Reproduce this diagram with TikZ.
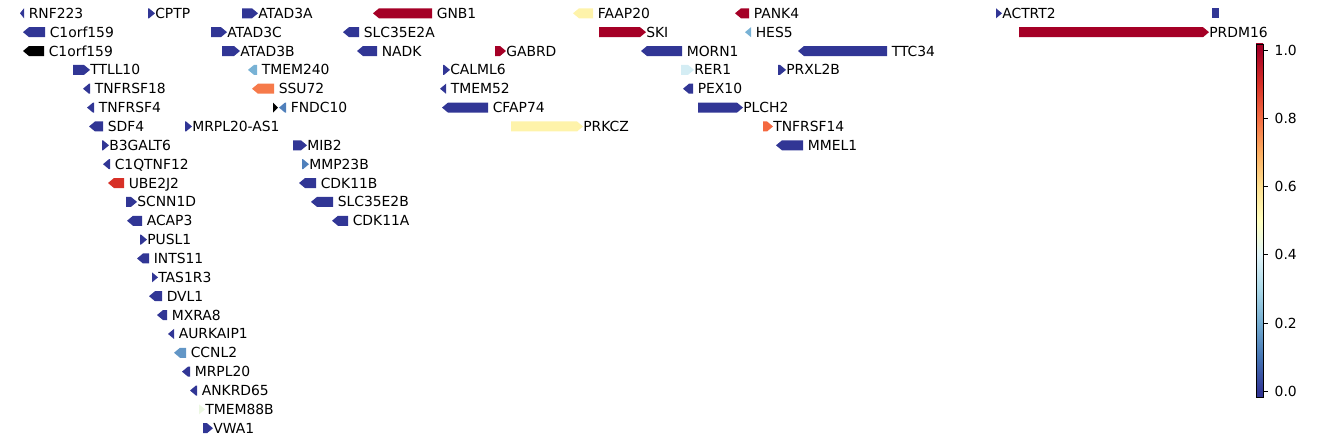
\documentclass[tikz,border=0pt]{standalone}
\usepackage{fontspec}
\setmainfont{DejaVu Sans}
\usepackage{xcolor}
\usetikzlibrary{positioning}

\definecolor{gblue}{HTML}{313695}
\definecolor{gred}{HTML}{A50026}
\definecolor{gltblue}{RGB}{120,178,213}
\definecolor{gmidblue}{RGB}{80,128,187}
\definecolor{gccnl}{RGB}{98,150,198}
\definecolor{gorange}{RGB}{246,122,74}
\definecolor{gorred}{RGB}{244,105,64}
\definecolor{gred2}{HTML}{D73027}
\definecolor{gyellow}{RGB}{254,243,170}
\definecolor{gpale}{RGB}{212,237,244}
\definecolor{gwhite}{RGB}{236,247,226}

\definecolor{rb0}{HTML}{313695}
\definecolor{rb1}{HTML}{4575B4}
\definecolor{rb2}{HTML}{74ADD1}
\definecolor{rb3}{HTML}{ABD9E9}
\definecolor{rb4}{HTML}{E0F3F8}
\definecolor{rb5}{HTML}{FFFFBF}
\definecolor{rb6}{HTML}{FEE090}
\definecolor{rb7}{HTML}{FDAE61}
\definecolor{rb8}{HTML}{F46D43}
\definecolor{rb9}{HTML}{D73027}
\definecolor{rb10}{HTML}{A50026}
\pgfdeclareverticalshading{rdylbu}{100bp}{color(0bp)=(rb0); color(25.78bp)=(rb0);
  color(30.62bp)=(rb1); color(35.45bp)=(rb2); color(40.29bp)=(rb3); color(45.13bp)=(rb4);
  color(49.96bp)=(rb5); color(54.80bp)=(rb6); color(59.64bp)=(rb7); color(64.48bp)=(rb8);
  color(69.31bp)=(rb9); color(74.15bp)=(rb10); color(100bp)=(rb10)}

\tikzset{
  genelabel/.style={anchor=base west, inner sep=0pt, font=\fontsize{10}{12}\selectfont},
  ticklabel/.style={anchor=west, inner sep=0pt, xshift=4.5pt, font=\fontsize{10}{12}\selectfont},
}

\begin{document}
\begin{tikzpicture}[x=0.72pt, y=-0.72pt]
            \useasboundingbox (0,0) rectangle (1338,442);

            % forward gene: x1, x2, row, colour, name, label
            \def\fwd#1#2#3#4#5#6{%
              \pgfmathsetmacro\gy{13.3+(#3-1)*18.86}%
              \pgfmathsetmacro\gh{max(#1,#2-6)}%
              \fill[#4] (#1,\gy-5) -- (\gh,\gy-5) -- (#2,\gy) -- (\gh,\gy+5) -- (#1,\gy+5) -- cycle;
              \node[genelabel] (#5) at (#2,\gy+5) {#6};}
            % reverse gene: x1, x2, row, colour, name, label
            \def\rev#1#2#3#4#5#6{%
              \pgfmathsetmacro\gy{13.3+(#3-1)*18.86}%
              \pgfmathsetmacro\gh{min(#2,#1+6)}%
              \fill[#4] (#2,\gy-5) -- (\gh,\gy-5) -- (#1,\gy) -- (\gh,\gy+5) -- (#2,\gy+5) -- cycle;
              \node[genelabel] (#5) at (#2+4.5,\gy+5) {#6};}

            % row 1
            \rev{20}{24}{1}{gblue}{rnf223}{RNF223}
            \fwd{148}{155}{1}{gblue}{cptp}{CPTP}
            \fwd{242}{258}{1}{gblue}{atad3a}{ATAD3A}
            \rev{373}{432}{1}{gred}{gnb1}{GNB1}
            \rev{573}{593}{1}{gyellow}{faap20}{FAAP20}
            \rev{735}{749}{1}{gred}{pank4}{PANK4}
            \fwd{996}{1002}{1}{gblue}{actrt2}{ACTRT2}
            \fill[gblue] (1212,8.3) rectangle (1219,18.3);
            % row 2
            \rev{23}{45}{2}{gblue}{c1orfa}{C1orf159}
            \fwd{211}{227}{2}{gblue}{atad3c}{ATAD3C}
            \rev{343}{359}{2}{gblue}{slca}{SLC35E2A}
            \fwd{599}{646}{2}{gred}{ski}{SKI}
            \rev{745}{751}{2}{gltblue}{hes5}{HES5}
            \fwd{1019}{1209}{2}{gred}{prdm16}{PRDM16}
            % row 3
            \rev{23}{44}{3}{black}{c1orfb}{C1orf159}
            \fwd{222}{240}{3}{gblue}{atad3b}{ATAD3B}
            \rev{357}{377}{3}{gblue}{nadk}{NADK}
            \fwd{495}{506}{3}{gred}{gabrd}{GABRD}
            \rev{641}{682}{3}{gblue}{morn1}{MORN1}
            \rev{798}{887}{3}{gblue}{ttc34}{TTC34}
            % row 4
            \fwd{73}{90}{4}{gblue}{ttll10}{TTLL10}
            \rev{248}{257}{4}{gltblue}{tmem240}{TMEM240}
            \fwd{443}{450}{4}{gblue}{calml6}{CALML6}
            \fwd{681}{694}{4}{gpale}{rer1}{RER1}
            \fwd{778}{786}{4}{gblue}{prxl2b}{PRXL2B}
            % row 5
            \rev{83}{90}{5}{gblue}{tnfrsf18}{TNFRSF18}
            \rev{252}{274}{5}{gorange}{ssu72}{SSU72}
            \rev{440}{446}{5}{gblue}{tmem52}{TMEM52}
            \rev{683}{693}{5}{gblue}{pex10}{PEX10}
            % row 6
            \rev{87}{94}{6}{gblue}{tnfrsf4}{TNFRSF4}
            \fill[black] (273,102.6) -- (278,107.6) -- (273,112.6) -- cycle;
            \rev{279}{286}{6}{gmidblue}{fndc10}{FNDC10}
            \rev{442}{488}{6}{gblue}{cfap74}{CFAP74}
            \fwd{698}{743}{6}{gblue}{plch2}{PLCH2}
            % row 7
            \rev{89}{103}{7}{gblue}{sdf4}{SDF4}
            \fwd{185}{192}{7}{gblue}{mrplas}{MRPL20-AS1}
            \fwd{511}{583}{7}{gyellow}{prkcz}{PRKCZ}
            \fwd{763}{773}{7}{gorred}{tnfrsf14}{TNFRSF14}
            % row 8
            \fwd{102}{109}{8}{gblue}{b3galt6}{B3GALT6}
            \fwd{293}{307}{8}{gblue}{mib2}{MIB2}
            \rev{776}{803}{8}{gblue}{mmel1}{MMEL1}
            % row 9
            \rev{103}{110}{9}{gblue}{c1qtnf12}{C1QTNF12}
            \fwd{302}{309}{9}{gmidblue}{mmp23b}{MMP23B}
            % row 10
            \rev{108}{124}{10}{gred2}{ube2j2}{UBE2J2}
            \rev{299}{316}{10}{gblue}{cdk11b}{CDK11B}
            % row 11
            \fwd{126}{137}{11}{gblue}{scnn1d}{SCNN1D}
            \rev{311}{333}{11}{gblue}{slcb}{SLC35E2B}
            % row 12
            \rev{127}{142}{12}{gblue}{acap3}{ACAP3}
            \rev{332}{348}{12}{gblue}{cdk11a}{CDK11A}
            % rows 13 to 23
            \fwd{140}{147}{13}{gblue}{pusl1}{PUSL1}
            \rev{137}{149}{14}{gblue}{ints11}{INTS11}
            \fwd{152}{158}{15}{gblue}{tas1r3}{TAS1R3}
            \rev{149}{162}{16}{gblue}{dvl1}{DVL1}
            \rev{157}{167}{17}{gblue}{mxra8}{MXRA8}
            \rev{168}{174}{18}{gblue}{aurkaip1}{AURKAIP1}
            \rev{174}{186}{19}{gccnl}{ccnl2}{CCNL2}
            \rev{182}{190}{20}{gblue}{mrpl20}{MRPL20}
            \rev{190}{197}{21}{gblue}{ankrd65}{ANKRD65}
            \fwd{199}{205}{22}{gwhite}{tmem88b}{TMEM88B}
            \fwd{203}{213}{23}{gblue}{vwa1}{VWA1}

            % colour bar
            \shade[shading=rdylbu] (1256,44) rectangle (1263,397);
            \draw[line width=0.6pt] (1256,44) rectangle (1263,397);
            \foreach \v [count=\i] in {0.0,0.2,0.4,0.6,0.8,1.0}
              \draw[line width=0.6pt] (1263,{391.5-341.5*\v}) -- ++(5,0) node[ticklabel] (tick\i) {\v};
        \end{tikzpicture}
\end{document}
